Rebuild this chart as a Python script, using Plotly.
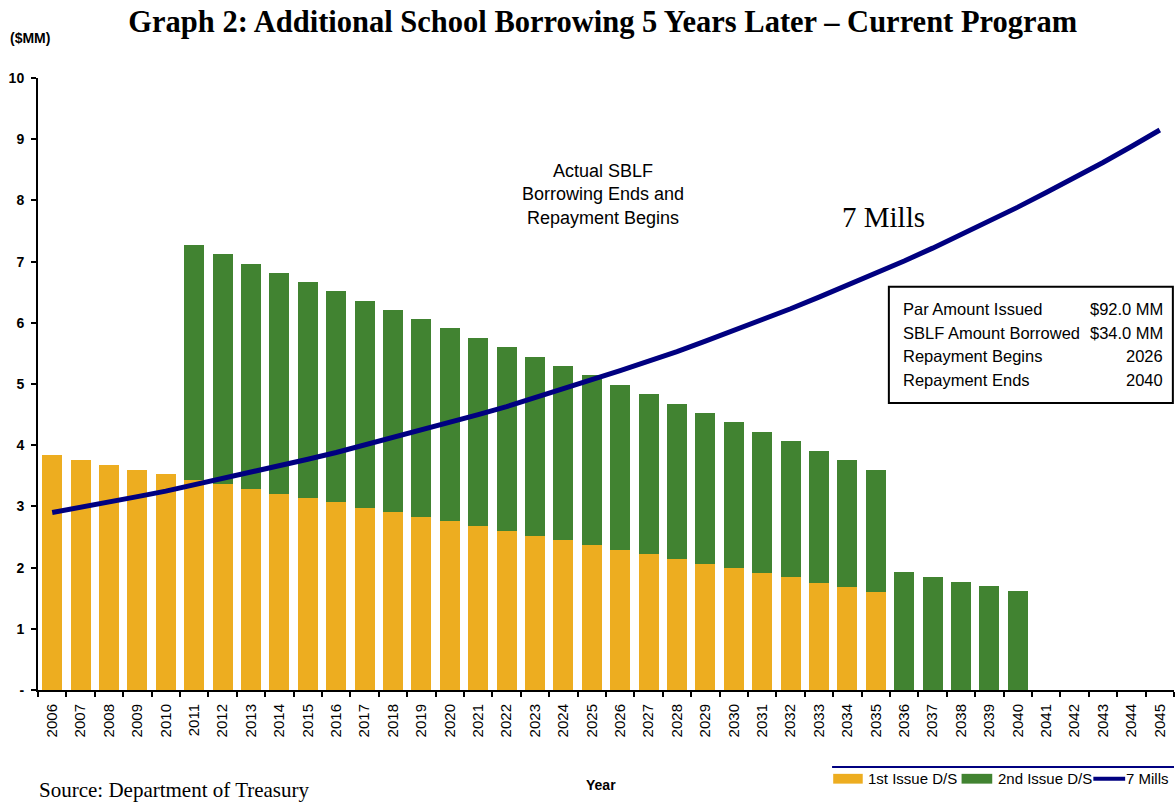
import plotly.graph_objects as go

# Data ($MM)
years = [str(y) for y in range(2006, 2046)]

first_issue = [3.84, 3.76, 3.68, 3.60, 3.53, 3.43, 3.37, 3.28, 3.20, 3.14,
               3.07, 2.97, 2.91, 2.83, 2.76, 2.68, 2.60, 2.52, 2.45, 2.37,
               2.29, 2.22, 2.14, 2.06, 1.99, 1.91, 1.85, 1.75, 1.68, 1.60,
               None, None, None, None, None, None, None, None, None, None]

second_issue = [None, None, None, None, None, 3.84, 3.75, 3.68, 3.61, 3.53,
                3.45, 3.39, 3.30, 3.23, 3.15, 3.07, 3.00, 2.92, 2.84, 2.78,
                2.69, 2.62, 2.53, 2.47, 2.39, 2.31, 2.22, 2.16, 2.08, 1.99,
                1.93, 1.85, 1.76, 1.70, 1.62, None, None, None, None, None]

seven_mills = [2.90, 2.98, 3.07, 3.16, 3.25, 3.35, 3.45, 3.55, 3.66, 3.77,
               3.88, 4.00, 4.12, 4.24, 4.37, 4.50, 4.63, 4.77, 4.92, 5.07,
               5.22, 5.37, 5.53, 5.70, 5.87, 6.05, 6.23, 6.42, 6.61, 6.81,
               7.01, 7.22, 7.44, 7.66, 7.89, 8.13, 8.37, 8.62, 8.88, 9.15]

y_ticks = [0, 1, 2, 3, 4, 5, 6, 7, 8, 9, 10]
y_tick_labels = ['-', '1', '2', '3', '4', '5', '6', '7', '8', '9', '10']

box_labels = ['Par Amount Issued', 'SBLF Amount Borrowed', 'Repayment Begins', 'Repayment Ends']
box_values = ['$92.0 MM', '$34.0 MM', '2026', '2040']

YELLOW = '#EDAD20'
GREEN = '#418331'
NAVY = '#000080'
SANS = 'Liberation Sans, Arial, sans-serif'
SERIF = 'Liberation Serif, Times New Roman, serif'

fig = go.Figure()

fig.add_trace(go.Bar(x=years, y=first_issue, name='1st Issue D/S',
                     marker=dict(color=YELLOW, line=dict(width=0))))
fig.add_trace(go.Bar(x=years, y=second_issue, name='2nd Issue D/S',
                     marker=dict(color=GREEN, line=dict(width=0))))
fig.add_trace(go.Scatter(x=years, y=seven_mills, name='7 Mills', mode='lines',
                         line=dict(color=NAVY, width=5)))


def note(x, y, text, size, family=SANS, xanchor='center', yanchor='middle', align='center'):
    fig.add_annotation(x=x, y=y, xref='paper', yref='paper', text=text,
                       xanchor=xanchor, yanchor=yanchor, align=align,
                       showarrow=False,
                       font=dict(family=family, size=size, color='black'))


# Text annotations on the plot
note(0.497, 0.809, 'Actual SBLF<br>Borrowing Ends and<br>Repayment Begins', 18)
note(0.744, 0.773, '7 Mills', 29, family=SERIF)

# Info box
fig.add_shape(type='rect', xref='paper', yref='paper',
              x0=0.749, x1=0.999, y0=0.469, y1=0.659,
              line=dict(color='black', width=2), fillcolor='white', layer='above')
for i, (lab, val) in enumerate(zip(box_labels, box_values)):
    yy = 0.623 - i * 0.0390
    note(0.760, yy, lab, 16.5, xanchor='left')
    note(0.992, yy, val, 16.5, xanchor='right')

# Units, axis title, source
note(-0.026, 1.065, '<b>($MM)</b>', 14, xanchor='left')
note(0.496, -0.155, '<b>Year</b>', 14,
     family='Liberation Sans Narrow, Arial Narrow, sans-serif')
note(-0.001, -0.164, 'Source: Department of Treasury', 21, family=SERIF, xanchor='left')

# Hand-drawn legend, as in the reference
fig.add_shape(type='line', xref='paper', yref='paper', x0=0.699, x1=1.0,
              y0=-0.126, y1=-0.126, line=dict(color=NAVY, width=2))
leg_y = -0.145
fig.add_shape(type='rect', xref='paper', yref='paper', x0=0.700, x1=0.726,
              y0=leg_y - 0.008, y1=leg_y + 0.008, line=dict(width=0), fillcolor=YELLOW)
note(0.729, leg_y, '1st Issue D/S', 15, xanchor='left')
fig.add_shape(type='rect', xref='paper', yref='paper', x0=0.813, x1=0.840,
              y0=leg_y - 0.008, y1=leg_y + 0.008, line=dict(width=0), fillcolor=GREEN)
note(0.843, leg_y, '2nd Issue D/S', 15, xanchor='left')
fig.add_shape(type='line', xref='paper', yref='paper', x0=0.929, x1=0.957,
              y0=leg_y, y1=leg_y, line=dict(color=NAVY, width=4))
note(0.956, leg_y, '7 Mills', 15, xanchor='left')

fig.update_layout(
    width=1175, height=803,
    paper_bgcolor='white', plot_bgcolor='white',
    barmode='stack', bargap=0.3,
    margin=dict(l=38, r=1, t=78, b=113),
    title=dict(text='<b>Graph 2: Additional School Borrowing 5 Years Later \u2013 Current Program</b>',
               x=0.513, xanchor='center', y=0.973, yanchor='middle',
               font=dict(family=SERIF, size=30.5, color='black')),
    showlegend=False,
    font=dict(family=SANS, color='black'),
)

fig.update_xaxes(type='category', showline=True, linecolor='black', linewidth=2,
                 ticks='outside', tickson='boundaries', ticklen=5, tickwidth=2,
                 tickcolor='black', tickangle=-90, showgrid=False,
                 ticklabelstandoff=6,
                 tickfont=dict(family=SANS, size=15, color='black'))
fig.update_yaxes(range=[0, 10], tickvals=y_ticks,
                 ticktext=['<b>%s</b>' % t for t in y_tick_labels],
                 showline=True, linecolor='black', linewidth=2,
                 ticks='outside', ticklen=5, tickwidth=2, tickcolor='black',
                 showgrid=False, zeroline=False, ticklabelstandoff=4,
                 tickfont=dict(family=SANS, size=14, color='black'))

fig.write_html('out.html', config={'displayModeBar': False},
               post_script="document.body.style.margin='0';document.body.style.overflow='hidden';")
